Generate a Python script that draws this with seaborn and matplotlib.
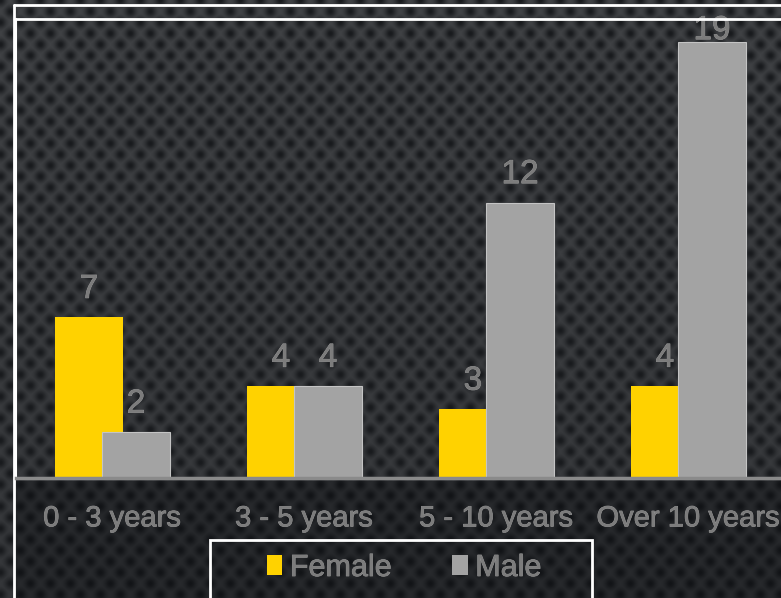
import numpy as np
import pandas as pd
import matplotlib
matplotlib.use('Agg')
import matplotlib.pyplot as plt
import matplotlib.patheffects as pe
from matplotlib.patches import Patch, Rectangle
from matplotlib.lines import Line2D
import seaborn as sns

# Data
categories = ['0 - 3 years', '3 - 5 years', '5 - 10 years', 'Over 10 years']
female = [7, 4, 3, 4]
male = [2, 4, 12, 19]

yellow = '#FFD200'
grey = '#A3A3A3'
text_grey = '#7c7c7c'

sns.set_style('dark')
plt.rcParams['font.family'] = ['Liberation Sans', 'DejaVu Sans']

W, H = 781, 598
fig = plt.figure(figsize=(W / 100, H / 100), dpi=100)

# Carbon-fibre style background texture (decorative only)
yy, xx = np.mgrid[0:H, 0:W].astype(float)
def dots(x, y, ox, oy):
    dx = ((x - ox + 10) % 20) - 10
    dy = ((y - oy + 11) % 22) - 11
    return np.exp(-(dx ** 2 + dy ** 2) / (2 * 4.0 ** 2))
d = np.maximum(dots(xx, yy, 0, 0), dots(xx, yy, 10, 11))
base = 66 - 12 * (yy / H)
lower = (yy > 480) & (xx > 15)
base = np.where(lower, 40, base)
dark = np.where(lower, 18, 24)
val = base - (base - dark) * d
tex = np.stack([val, val + 2, val + 5], axis=-1) / 255.0
fig.figimage(np.clip(tex, 0, 1), xo=0, yo=0, origin='upper', zorder=0)

ax = fig.add_axes([16 / W, 120 / H, 768 / W, 459 / H], zorder=2)
ax.set_facecolor('none')

df = pd.DataFrame({'cat': categories, 'Female': female, 'Male': male})
df['idx'] = np.arange(len(categories))

sns.barplot(x=df['idx'] - 0.12, y=df['Female'], native_scale=True, width=0.35,
            color=yellow, saturation=1, linewidth=0, ax=ax, zorder=1)
sns.barplot(x=df['idx'] + 0.125, y=df['Male'], native_scale=True, width=0.35,
            color=grey, saturation=1, edgecolor='#c4c4c4', linewidth=0.8,
            ax=ax, zorder=1.1)

ax.set_xlim(-0.5, 3.5)
ax.set_ylim(0, 20)
ax.set_xticks(df['idx'])
ax.set_xticklabels(categories)
ax.set_yticks([])
ax.set_xlabel('')
ax.set_ylabel('')
ax.grid(False)
ax.tick_params(axis='x', length=0, pad=19, labelsize=21, labelcolor=text_grey)

stroke = [pe.withStroke(linewidth=0.5, foreground='#9a9a9a')]
for t in ax.get_xticklabels():
    t.set_path_effects(stroke)

ymax = ax.get_ylim()[1]
for cont in ax.containers:
    for bar in cont:
        h = bar.get_height()
        pad = 2 if h > 0.9 * ymax else 14
        ax.annotate(f'{int(h)}', (bar.get_x() + bar.get_width() / 2, h),
                    xytext=(0, pad), textcoords='offset points',
                    ha='center', va='baseline', fontsize=24,
                    color=text_grey, path_effects=stroke, zorder=2.2,
                    annotation_clip=False)

ax.spines['right'].set_visible(False)
ax.spines['top'].set_color('white')
ax.spines['top'].set_linewidth(2)
ax.spines['left'].set_color('white')
ax.spines['left'].set_linewidth(1.5)
ax.spines['bottom'].set_color('#8a8a8a')
ax.spines['bottom'].set_linewidth(2.5)

# outer slide frame
fig.add_artist(Line2D([14 / W, 1], [1 - 5 / H, 1 - 5 / H], color='white', lw=2,
                      transform=fig.transFigure))
fig.add_artist(Line2D([14 / W, 14 / W], [0, 1 - 5 / H], color='white', lw=2,
                      transform=fig.transFigure))

handles = [Patch(facecolor=yellow, edgecolor='none'),
           Patch(facecolor=grey, edgecolor='none')]
leg = fig.legend(handles, ['Female', 'Male'], loc='center', ncol=2,
                 bbox_to_anchor=(404 / W, 1 - 568 / H), frameon=False,
                 fontsize=22, labelcolor=text_grey, handlelength=0.5,
                 handleheight=0.65, handletextpad=0.25, columnspacing=2.0)
for t in leg.get_texts():
    t.set_path_effects(stroke)
fig.add_artist(Rectangle((210 / W, -0.02), 382 / W, (598 - 540) / H + 0.02,
                         fill=False, edgecolor='white', lw=2,
                         transform=fig.transFigure))

fig.savefig('out.png', dpi=100, facecolor='#2c2d30')
